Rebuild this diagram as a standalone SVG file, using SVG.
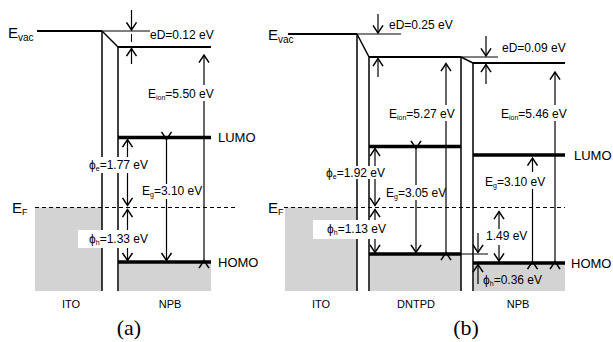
<svg xmlns="http://www.w3.org/2000/svg" width="613" height="342" viewBox="0 0 613 342">
<defs>
<marker id="ah" markerUnits="userSpaceOnUse" markerWidth="14" markerHeight="14" viewBox="-8 -6 9 12" refX="0" refY="0" orient="auto">
<path d="M-6.5,-4.3 L0,0 L-6.5,4.3" fill="none" stroke="#000" stroke-width="1.3"/>
</marker>
<style>
.t{font-family:"Liberation Sans",Arial,sans-serif;font-size:12px;fill:#000}
.lb{font-family:"Liberation Sans",Arial,sans-serif;font-size:11px;fill:#000}
.big{font-family:"Liberation Sans",Arial,sans-serif;font-size:15px;fill:#000}
.cap{font-family:"Liberation Serif","Times New Roman",serif;font-size:22px;fill:#000}
.gray{fill:#d3d3d3}
.bg{fill:#fff}
.thin{stroke:#000;stroke-width:1;fill:none}
.edge{stroke:#000;stroke-width:1.5;fill:none}
.vac{stroke:#000;stroke-width:2.2;fill:none}
.lvl{stroke:#000;stroke-width:3.5;fill:none}
.ef{stroke:#000;stroke-width:1;stroke-dasharray:4,3;fill:none}
.ar{stroke:#000;stroke-width:1.2;fill:none;marker-end:url(#ah)}
.dar{stroke:#000;stroke-width:1.2;fill:none;marker-start:url(#ah);marker-end:url(#ah)}
</style>
</defs>
<rect width="613" height="342" fill="#fff"/>

<!-- Panel (a) -->
<g id="panel-a">
<g id="a-ito">
<rect class="gray" x="35" y="207.5" width="67" height="83.5"/>
<line class="vac" x1="37" y1="31" x2="102" y2="31"/>
<line class="edge" x1="102" y1="31" x2="102" y2="291"/>
</g>
<g id="a-npb">
<rect class="gray" x="119" y="262" width="92" height="29"/>
<line class="edge" x1="118" y1="47" x2="118" y2="291"/>
<line class="vac" x1="118" y1="47" x2="211" y2="47"/>
<line class="lvl" x1="118" y1="137.5" x2="211" y2="137.5"/>
<line class="lvl" x1="118" y1="262" x2="211" y2="262"/>
</g>
<g id="a-connectors">
<line class="thin" x1="102" y1="31" x2="150" y2="31"/>
<line class="edge" x1="102" y1="31" x2="118" y2="47"/>
<line class="ef" x1="35" y1="207.5" x2="235" y2="207.5"/>
<line class="ar" x1="131.5" y1="10" x2="131.5" y2="30"/>
<line class="thin" x1="131.5" y1="34" x2="131.5" y2="42"/>
<line class="ar" x1="131.5" y1="64" x2="131.5" y2="48.5"/>
<line class="dar" x1="204" y1="260.5" x2="204" y2="55"/>
<line class="dar" x1="166.5" y1="139.5" x2="166.5" y2="260.5"/>
<line class="ar" x1="127.5" y1="160" x2="127.5" y2="139.5"/>
<line class="ar" x1="127.5" y1="170" x2="127.5" y2="205.5"/>
<line class="ar" x1="127.5" y1="230" x2="127.5" y2="209.5"/>
<line class="ar" x1="127.5" y1="246" x2="127.5" y2="260.5"/>
</g>
<g id="a-labels">
<rect class="bg" x="88" y="157" width="62" height="16"/>
<rect class="bg" x="78" y="230" width="72" height="18"/>
<rect class="bg" x="141" y="184" width="61" height="15"/>
<rect class="bg" x="146" y="85" width="72" height="16"/>
<text class="big" x="8" y="38">E<tspan font-size="10" dy="3">vac</tspan></text>
<text class="big" x="12" y="213">E<tspan font-size="9" dy="2">F</tspan></text>
<text class="t" x="150" y="39">eD=0.12 eV</text>
<text class="t" x="148" y="98">E<tspan font-size="7" dy="1.5">ion</tspan><tspan dy="-1.5">=5.50 eV</tspan></text>
<text class="t" x="89" y="169">ϕ<tspan font-size="7" dy="1.5">e</tspan><tspan dy="-1.5">=1.77 eV</tspan></text>
<text class="t" x="89" y="243">ϕ<tspan font-size="7" dy="1.5">h</tspan><tspan dy="-1.5">=1.33 eV</tspan></text>
<text class="t" x="142" y="195">E<tspan font-size="7" dy="1.5">g</tspan><tspan dy="-1.5">=3.10 eV</tspan></text>
<text class="t" style="font-size:13px" x="218" y="142">LUMO</text>
<text class="t" style="font-size:13px" x="218" y="267">HOMO</text>
<text class="lb" x="71" y="308" text-anchor="middle">ITO</text>
<text class="lb" x="170" y="308" text-anchor="middle">NPB</text>
<text class="cap" x="129" y="335" text-anchor="middle">(a)</text>
</g>
</g>

<!-- Panel (b) -->
<g id="panel-b">
<g id="b-ito">
<rect class="gray" x="285" y="207.5" width="72" height="83.5"/>
<line class="vac" x1="288" y1="34" x2="357" y2="34"/>
<line class="edge" x1="357" y1="34" x2="357" y2="291"/>
</g>
<g id="b-dntpd">
<rect class="gray" x="370" y="254" width="91" height="37"/>
<line class="edge" x1="369" y1="57" x2="369" y2="291"/>
<line class="edge" x1="461" y1="57" x2="461" y2="291"/>
<line class="vac" x1="369" y1="57" x2="461" y2="57"/>
<line class="lvl" x1="369" y1="146.5" x2="461" y2="146.5"/>
<line class="lvl" x1="369" y1="254" x2="461" y2="254"/>
</g>
<g id="b-npb">
<rect class="gray" x="474" y="263" width="91" height="28"/>
<line class="edge" x1="473" y1="63" x2="473" y2="291"/>
<line class="vac" x1="473" y1="63" x2="565" y2="63"/>
<line class="lvl" x1="473" y1="155" x2="565" y2="155"/>
<line class="lvl" x1="473" y1="263" x2="565" y2="263"/>
</g>
<g id="b-connectors">
<line class="thin" x1="357" y1="34" x2="401" y2="34"/>
<line class="edge" x1="357" y1="34" x2="369" y2="57"/>
<line class="thin" x1="461" y1="57" x2="498" y2="57"/>
<line class="edge" x1="461" y1="57" x2="473" y2="63"/>
<line class="thin" x1="461" y1="254" x2="488" y2="254"/>
<line class="ef" x1="284" y1="207.5" x2="565" y2="207.5"/>
<line class="ar" x1="378" y1="14" x2="378" y2="33"/>
<line class="ar" x1="378" y1="77" x2="378" y2="58.5"/>
<line class="ar" x1="486" y1="36" x2="486" y2="56"/>
<line class="ar" x1="486" y1="84" x2="486" y2="64.5"/>
<line class="dar" x1="446" y1="252.5" x2="446" y2="63.5"/>
<line class="dar" x1="555" y1="261.5" x2="555" y2="72"/>
<line class="dar" x1="416" y1="148.5" x2="416" y2="252.5"/>
<line class="dar" x1="532.5" y1="261.5" x2="532.5" y2="158"/>
<line class="ar" x1="375" y1="170" x2="375" y2="148.5"/>
<line class="ar" x1="375" y1="178" x2="375" y2="205.5"/>
<line class="ar" x1="375" y1="222" x2="375" y2="209.5"/>
<line class="ar" x1="375" y1="238" x2="375" y2="252.5"/>
<line class="ar" x1="499" y1="229" x2="499" y2="211.5"/>
<line class="ar" x1="499" y1="245" x2="499" y2="261"/>
<line class="ar" x1="478" y1="233" x2="478" y2="252.5"/>
<line class="ar" x1="478" y1="284" x2="478" y2="264.5"/>
</g>
<g id="b-labels">
<rect class="bg" x="325" y="166" width="63" height="13"/>
<rect class="bg" x="313" y="220" width="75" height="19"/>
<rect class="bg" x="384" y="185" width="60" height="15"/>
<rect class="bg" x="387" y="105" width="70" height="16"/>
<rect class="bg" x="499" y="105" width="66" height="16"/>
<rect class="bg" x="483" y="172" width="63" height="17"/>
<rect class="bg" x="484" y="229" width="38" height="16"/>
<text class="big" x="268" y="40">E<tspan font-size="10" dy="3">vac</tspan></text>
<text class="big" x="268" y="213">E<tspan font-size="9" dy="2">F</tspan></text>
<text class="t" x="389" y="29">eD=0.25 eV</text>
<text class="t" x="502" y="52">eD=0.09 eV</text>
<text class="t" x="389" y="118">E<tspan font-size="7" dy="1.5">ion</tspan><tspan dy="-1.5">=5.27 eV</tspan></text>
<text class="t" x="501" y="118">E<tspan font-size="7" dy="1.5">ion</tspan><tspan dy="-1.5">=5.46 eV</tspan></text>
<text class="t" x="326" y="177">ϕ<tspan font-size="7" dy="1.5">e</tspan><tspan dy="-1.5">=1.92 eV</tspan></text>
<text class="t" x="327" y="233">ϕ<tspan font-size="7" dy="1.5">h</tspan><tspan dy="-1.5">=1.13 eV</tspan></text>
<text class="t" x="386" y="197">E<tspan font-size="7" dy="1.5">g</tspan><tspan dy="-1.5">=3.05 eV</tspan></text>
<text class="t" x="485" y="186">E<tspan font-size="7" dy="1.5">g</tspan><tspan dy="-1.5">=3.10 eV</tspan></text>
<text class="t" x="486" y="240">1.49 eV</text>
<text class="t" x="483" y="284">ϕ<tspan font-size="7" dy="1.5">h</tspan><tspan dy="-1.5">=0.36 eV</tspan></text>
<text class="t" style="font-size:13px" x="574" y="160">LUMO</text>
<text class="t" style="font-size:13px" x="571" y="268">HOMO</text>
<text class="lb" x="321" y="308" text-anchor="middle">ITO</text>
<text class="lb" x="416" y="308" text-anchor="middle">DNTPD</text>
<text class="lb" x="518" y="308" text-anchor="middle">NPB</text>
<text class="cap" x="466" y="335" text-anchor="middle">(b)</text>
</g>
</g>
</svg>
